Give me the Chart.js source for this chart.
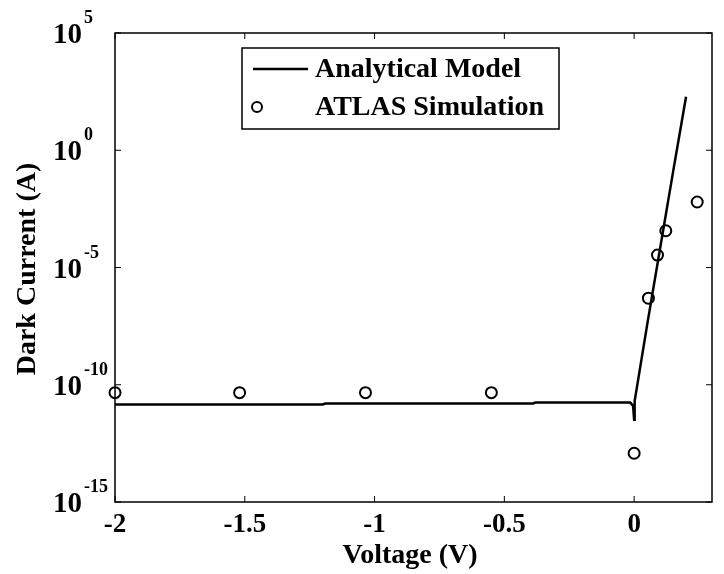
<!DOCTYPE html>
<html>
<head>
<meta charset="utf-8">
<script src="https://cdn.jsdelivr.net/npm/chart.js@4/dist/chart.umd.min.js"></script>
<style>
  html, body { margin: 0; padding: 0; background: #fff; }
  #wrap { width: 724px; height: 574px; }
</style>
</head>
<body>
<div id="wrap"><canvas id="grafica" width="724" height="574"></canvas></div>
<script>
// modelo analitico (linea)
const voltajeModelo = [-2, -1.2, -1.19, -0.39, -0.38, -0.015, -0.004, 0, 0.002, 0.05, 0.1, 0.15, 0.2];
const corrienteModelo = [1.45e-11, 1.45e-11, 1.58e-11, 1.58e-11, 1.74e-11, 1.74e-11, 1.26e-11, 3.2e-12, 2.0e-11, 3.5e-8, 6.5e-5, 0.12, 190];

// simulacion ATLAS (circulos)
const voltajeAtlas = [-2, -1.52, -1.035, -0.55, 0, 0.055, 0.09, 0.122, 0.243];
const corrienteAtlas = [4.6e-11, 4.6e-11, 4.6e-11, 4.6e-11, 1.2e-13, 4.9e-7, 3.4e-5, 3.7e-4, 6.2e-3];

const ticksX = [-2, -1.5, -1, -0.5, 0];
const etiquetasX = ["-2", "-1.5", "-1", "-0.5", "0"];
const ticksY = [1e5, 1e0, 1e-5, 1e-10, 1e-15];
const exponentesY = ["5", "0", "-5", "-10", "-15"];

const fuente = '"Liberation Serif", "Times New Roman", serif';

const marcoMatlab = {
  id: "marcoMatlab",
  afterDraw(chart) {
    const ctx = chart.ctx;
    const a = chart.chartArea;
    const sx = chart.scales.x, sy = chart.scales.y;
    ctx.save();
    ctx.strokeStyle = "#000";
    ctx.fillStyle = "#000";
    ctx.lineWidth = 1.5;
    ctx.strokeRect(a.left, a.top, a.right - a.left, a.bottom - a.top);

    // ticks hacia dentro
    ctx.lineWidth = 1;
    ticksX.forEach(v => {
      const px = sx.getPixelForValue(v);
      ctx.beginPath();
      ctx.moveTo(px, a.bottom); ctx.lineTo(px, a.bottom - 6);
      ctx.moveTo(px, a.top); ctx.lineTo(px, a.top + 6);
      ctx.stroke();
    });
    ticksY.forEach(v => {
      const py = sy.getPixelForValue(v);
      ctx.beginPath();
      ctx.moveTo(a.left, py); ctx.lineTo(a.left + 6, py);
      ctx.moveTo(a.right, py); ctx.lineTo(a.right - 6, py);
      ctx.stroke();
    });

    // etiquetas eje x
    ctx.font = "bold 27px " + fuente;
    ctx.textAlign = "center";
    ctx.textBaseline = "middle";
    ticksX.forEach((v, i) => {
      ctx.fillText(etiquetasX[i], sx.getPixelForValue(v), 525);
    });

    // etiquetas eje y: 10 con exponente
    ticksY.forEach((v, i) => {
      const py = sy.getPixelForValue(v);
      ctx.textAlign = "left";
      ctx.textBaseline = "alphabetic";
      ctx.font = "bold 29px " + fuente;
      ctx.fillText("10", 53, py + 10);
      ctx.font = "bold 18px " + fuente;
      ctx.fillText(exponentesY[i], 84, py - 10);
    });

    // titulos
    ctx.font = "bold 28px " + fuente;
    ctx.textAlign = "center";
    ctx.textBaseline = "middle";
    ctx.fillText("Voltage (V)", 410, 556);
    ctx.save();
    ctx.translate(28, 269);
    ctx.rotate(-Math.PI / 2);
    ctx.fillText("Dark Current (A)", 0, 0);
    ctx.restore();

    // leyenda
    const d = chart.data.datasets;
    ctx.fillStyle = "#fff";
    ctx.fillRect(242, 48, 317, 81);
    ctx.lineWidth = 1.5;
    ctx.strokeRect(242, 48, 317, 81);
    ctx.strokeStyle = "#000";
    ctx.lineWidth = 2.5;
    ctx.beginPath();
    ctx.moveTo(253, 69); ctx.lineTo(308, 69);
    ctx.stroke();
    ctx.lineWidth = 2;
    ctx.beginPath();
    ctx.arc(257, 107, 5, 0, Math.PI * 2);
    ctx.stroke();
    ctx.fillStyle = "#000";
    ctx.font = "bold 28px " + fuente;
    ctx.textAlign = "left";
    ctx.fillText(d[0].label, 315, 70);
    ctx.fillText(d[1].label, 315, 108);
    ctx.restore();
  }
};

const ctx = document.getElementById("grafica").getContext("2d");
new Chart(ctx, {
  type: "scatter",
  data: {
    datasets: [
      {
        label: "Analytical Model",
        data: voltajeModelo.map((v, i) => ({ x: v, y: corrienteModelo[i] })),
        showLine: true,
        borderColor: "#000",
        borderWidth: 2.5,
        pointRadius: 0,
        tension: 0
      },
      {
        label: "ATLAS Simulation",
        data: voltajeAtlas.map((v, i) => ({ x: v, y: corrienteAtlas[i] })),
        showLine: false,
        borderColor: "#000",
        backgroundColor: "rgba(0,0,0,0)",
        borderWidth: 2,
        pointRadius: 5.5,
        clip: false
      }
    ]
  },
  options: {
    responsive: false,
    animation: false,
    layout: { padding: { left: 115, right: 12, top: 33, bottom: 72 } },
    plugins: { legend: { display: false }, tooltip: { enabled: false } },
    scales: {
      x: { type: "linear", min: -2, max: 0.3, display: false },
      y: { type: "logarithmic", min: 1e-15, max: 1e5, display: false }
    }
  },
  plugins: [marcoMatlab]
});
</script>
</body>
</html>
